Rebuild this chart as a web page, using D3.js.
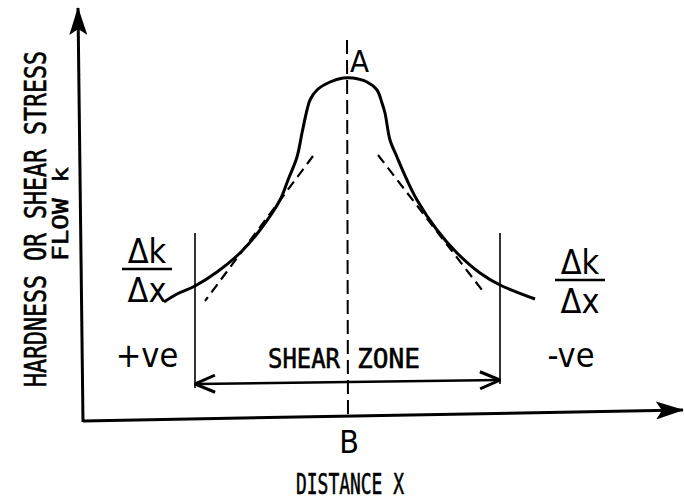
<!DOCTYPE html>
<html>
<head>
<meta charset="utf-8">
<script src="https://cdn.jsdelivr.net/npm/d3@7"></script>
<style>
  body { margin: 0; background: #fff; }
  text { font-family: "DejaVu Sans Condensed", "DejaVu Sans", sans-serif; fill: #000; }
  text.ink { font-family: "DejaVu Sans Mono", monospace; stroke: #000; stroke-width: 0.6px; }
</style>
</head>
<body>
<svg id="chart"></svg>
<script>
// values (distance x, hardness k, arbitrary units)
const distance = [81, 94, 112, 134, 157, 177, 197, 205, 214, 219, 224, 227, 234, 247, 260,
                  270, 284, 294, 299, 302, 307, 314, 324, 334, 354, 374, 397, 417, 452];
const hardness = [120, 128, 136, 150, 169, 192, 222, 242, 265, 289, 312, 322, 332, 340, 344,
                  344, 340, 332, 319, 309, 282, 265, 242, 222, 192, 169, 149, 137, 123];

// tangent lines (slope dk/dx) on each flank
const tangentLeft = [[230, 266], [122, 121]];
const tangentRight = [[295, 267], [399, 132]];

// peak position (A / B) and shear zone limits
const peakX = 264;
const zoneStart = 112, zoneEnd = 417;
const zoneTop = 189;
const zoneArrowY = [38, 42];

const xAxisEnds = [[0, 1], [600, 12]];
const yAxisEnds = [[0, 0], [-5, 414]];

const width = 684, height = 500;

const svg = d3.select('#chart')
    .attr('width', width)
    .attr('height', height);

const x = d3.scaleLinear().domain([0, 600]).range([83, 683]);
const y = d3.scaleLinear().domain([0, 420]).range([422, 2]);

// arrow markers
const defs = svg.append('defs');
defs.append('marker')
    .attr('id', 'axisHead')
    .attr('viewBox', '0 0 28 18')
    .attr('refX', 27).attr('refY', 9)
    .attr('markerWidth', 28).attr('markerHeight', 18)
    .attr('markerUnits', 'userSpaceOnUse')
    .attr('orient', 'auto')
    .append('path')
    .attr('d', 'M0,0 L28,9 L0,18 L6,9 Z')
    .attr('fill', '#000');

defs.append('marker')
    .attr('id', 'zoneHead')
    .attr('viewBox', '0 0 22 20')
    .attr('refX', 21).attr('refY', 10)
    .attr('markerWidth', 22).attr('markerHeight', 20)
    .attr('markerUnits', 'userSpaceOnUse')
    .attr('orient', 'auto-start-reverse')
    .append('path')
    .attr('d', 'M1,1.5 L21,10 L1,18.5')
    .attr('fill', 'none')
    .attr('stroke', '#000')
    .attr('stroke-width', 3);

const line = d3.line().x(d => x(d[0])).y(d => y(d[1]));

// axes
svg.append('path')
    .attr('d', line(yAxisEnds))
    .attr('stroke', '#000').attr('stroke-width', 3).attr('fill', 'none')
    .attr('marker-end', 'url(#axisHead)');

svg.append('path')
    .attr('d', line(xAxisEnds))
    .attr('stroke', '#000').attr('stroke-width', 3).attr('fill', 'none')
    .attr('marker-end', 'url(#axisHead)');

// centre line through the peak
svg.append('line')
    .attr('x1', x(peakX)).attr('x2', x(peakX) + 1)
    .attr('y1', y(382)).attr('y2', y(2))
    .attr('stroke', '#000').attr('stroke-width', 2)
    .attr('stroke-dasharray', '14,6');

// shear zone limits
[zoneStart, zoneEnd].forEach((v, i) => {
    svg.append('line')
        .attr('x1', x(v)).attr('x2', x(v))
        .attr('y1', y(zoneTop)).attr('y2', y(zoneArrowY[i] - 4))
        .attr('stroke', '#000').attr('stroke-width', 1.6);
});

svg.append('path')
    .attr('d', line([[zoneStart, zoneArrowY[0]], [zoneEnd, zoneArrowY[1]]]))
    .attr('stroke', '#000').attr('stroke-width', 2.5).attr('fill', 'none')
    .attr('marker-start', 'url(#zoneHead)')
    .attr('marker-end', 'url(#zoneHead)');

// tangents
[tangentLeft, tangentRight].forEach(t => {
    svg.append('path')
        .attr('d', line(t))
        .attr('stroke', '#000').attr('stroke-width', 2.2).attr('fill', 'none')
        .attr('stroke-dasharray', '10,6');
});

// hardness profile
const profile = d3.line()
    .x(d => x(d[0]))
    .y(d => y(d[1]))
    .curve(d3.curveCatmullRom.alpha(0.5));

svg.append('path')
    .datum(distance.map((d, i) => [d, hardness[i]]))
    .attr('d', profile)
    .attr('stroke', '#000').attr('stroke-width', 3).attr('fill', 'none');

// labels - y title squeezed with a scale so its box matches what is drawn
svg.append('text')
    .attr('class', 'ink')
    .attr('transform', 'translate(46,219) rotate(-90) scale(0.75,1)')
    .attr('text-anchor', 'middle')
    .attr('font-size', 31)
    .text('HARDNESS OR SHEAR STRESS');

svg.append('text')
    .attr('class', 'ink')
    .attr('transform', 'translate(68,214) rotate(-90)')
    .attr('text-anchor', 'middle')
    .attr('font-size', 21)
    .attr('textLength', 94).attr('lengthAdjust', 'spacingAndGlyphs')
    .text('FLOW k');

svg.append('text')
    .attr('x', x(peakX) + 3).attr('y', 72)
    .attr('font-size', 31)
    .text('A');

svg.append('text')
    .attr('x', x(peakX) + 2).attr('y', 453)
    .attr('text-anchor', 'middle')
    .attr('font-size', 32)
    .text('B');

svg.append('text')
    .attr('class', 'ink')
    .attr('x', 350).attr('y', 494)
    .attr('text-anchor', 'middle')
    .attr('font-size', 29)
    .attr('textLength', 108).attr('lengthAdjust', 'spacingAndGlyphs')
    .text('DISTANCE X');

svg.append('text')
    .attr('class', 'ink')
    .attr('x', 268).attr('y', 368)
    .attr('font-size', 27)
    .attr('textLength', 72).attr('lengthAdjust', 'spacingAndGlyphs')
    .text('SHEAR');

svg.append('text')
    .attr('class', 'ink')
    .attr('x', 357).attr('y', 368)
    .attr('font-size', 27)
    .attr('textLength', 63).attr('lengthAdjust', 'spacingAndGlyphs')
    .text('ZONE');

// dk/dx fractions
function fraction(cx, top, sign, sx) {
    svg.append('text')
        .attr('x', cx).attr('y', top)
        .attr('text-anchor', 'middle')
        .attr('font-size', 34)
        .text('Δk');
    svg.append('line')
        .attr('x1', cx - 25).attr('x2', cx + 25)
        .attr('y1', top + 6).attr('y2', top + 6)
        .attr('stroke', '#000').attr('stroke-width', 2.5);
    svg.append('text')
        .attr('x', cx).attr('y', top + 39)
        .attr('text-anchor', 'middle')
        .attr('font-size', 34)
        .text('Δx');
    svg.append('text')
        .attr('x', sx).attr('y', 367)
        .attr('text-anchor', 'middle')
        .attr('font-size', 34)
        .text(sign);
}
fraction(147, 263, '+ve', 147);
fraction(580, 274, '-ve', 571);
</script>
</body>
</html>
